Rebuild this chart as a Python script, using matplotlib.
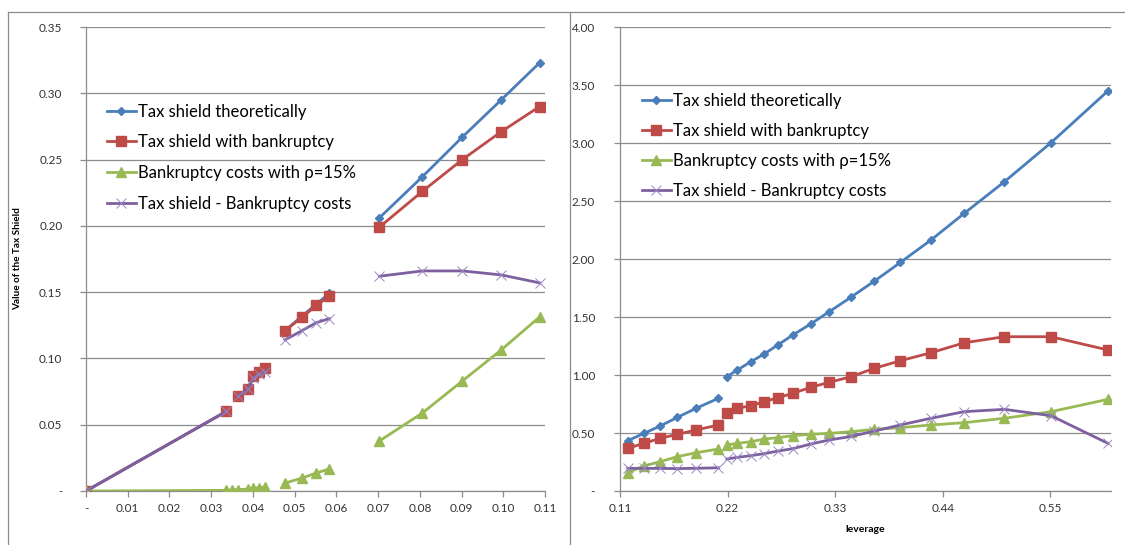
import matplotlib
matplotlib.use("Agg")
import matplotlib.pyplot as plt
from matplotlib.lines import Line2D
from matplotlib.ticker import FixedLocator, FuncFormatter
import numpy as np

plt.rcParams['font.family'] = ['Lato', 'DejaVu Sans']

nan = np.nan

# left chart (gaps marked with nan)
xl = [0.0, 0.0336, nan, 0.0365, 0.0389, 0.0400, 0.0415, 0.0430, nan,
      0.0477, 0.0518, 0.0552, 0.0583, nan, 0.0703, 0.0806, 0.0902, 0.0995, 0.1087]
blue_l = [0.0, 0.060, nan, 0.072, 0.077, 0.087, 0.090, 0.093, nan,
          0.121, 0.132, 0.141, 0.149, nan, 0.206, 0.237, 0.267, 0.295, 0.323]
red_l = [0.0, 0.060, nan, 0.072, 0.077, 0.087, 0.090, 0.093, nan,
         0.121, 0.131, 0.140, 0.147, nan, 0.199, 0.226, 0.250, 0.271, 0.290]
green_l = [0.0, 0.0005, 0.0008, 0.0010, 0.0015, 0.0020, 0.0025, 0.0030, nan,
           0.006, 0.0098, 0.0136, 0.0166, nan, 0.0377, 0.0588, 0.083, 0.1064, 0.1313]
xl_green = [0.0, 0.0336, 0.0350, 0.0365, 0.0389, 0.0400, 0.0415, 0.0430, nan,
            0.0477, 0.0518, 0.0552, 0.0583, nan, 0.0703, 0.0806, 0.0902, 0.0995, 0.1087]
purple_l = [0.0, 0.060, nan, 0.0715, 0.077, 0.085, 0.088, 0.090, nan,
            0.114, 0.121, 0.127, 0.130, nan, 0.162, 0.166, 0.166, 0.163, 0.157]

# right chart
xr = [0.1179, 0.1346, 0.1510, 0.1687, 0.1878, 0.2106, nan,
      0.2192, 0.2300, 0.2438, 0.2574, 0.2714, 0.2867, 0.3050, 0.3240, 0.3460,
      0.3702, 0.3966, 0.4280, 0.4620, 0.5030, 0.5507, 0.6088]
blue_r = [0.434, 0.497, 0.560, 0.635, 0.713, 0.799, nan,
          0.985, 1.043, 1.115, 1.181, 1.259, 1.345, 1.440, 1.546, 1.670,
          1.810, 1.970, 2.164, 2.394, 2.666, 3.003, 3.448]
red_r = [0.368, 0.411, 0.454, 0.489, 0.526, 0.569, nan,
         0.670, 0.713, 0.735, 0.770, 0.804, 0.842, 0.894, 0.937, 0.985,
         1.058, 1.123, 1.192, 1.278, 1.330, 1.330, 1.216]
green_r = [0.158, 0.216, 0.253, 0.296, 0.330, 0.362, nan,
           0.397, 0.411, 0.425, 0.448, 0.460, 0.477, 0.489, 0.497, 0.511,
           0.532, 0.546, 0.569, 0.589, 0.627, 0.684, 0.790]
purple_r = [0.196, 0.195, 0.195, 0.193, 0.196, 0.200, nan,
            0.276, 0.290, 0.305, 0.322, 0.344, 0.365, 0.405, 0.440, 0.470,
            0.517, 0.569, 0.627, 0.684, 0.704, 0.649, 0.411]

labels = ['Tax shield theoretically', 'Tax shield with bankruptcy',
          'Bankruptcy costs with \u03c1=15%', 'Tax shield - Bankruptcy costs']

xticks_l = [0.0, 0.01, 0.02, 0.03, 0.04, 0.05, 0.06, 0.07, 0.08, 0.09, 0.10, 0.11]
yticks_l = [0.0, 0.05, 0.10, 0.15, 0.20, 0.25, 0.30, 0.35]
xticks_r = [0.11, 0.22, 0.33, 0.44, 0.55]
yticks_r = [0.0, 0.5, 1.0, 1.5, 2.0, 2.5, 3.0, 3.5, 4.0]

c_blue = '#4A7EBB'
c_red = '#BE4B48'
c_green = '#98B954'
c_purple = '#7D60A0'
grid_c = '#8C8C8C'

fig = plt.figure(figsize=(11.25, 5.45), dpi=100)
W, H = 1125, 545
ax1 = fig.add_axes([86 / W, (H - 491) / H, 459 / W, 464 / H])
ax2 = fig.add_axes([620 / W, (H - 491) / H, 491 / W, 464 / H])


def fmt_num(v, pos):
    if abs(v) < 1e-9:
        return '-'
    return '%.2f' % v


def draw(ax, x, b, r, g, p, xg=None):
    lw = 2.0
    # later series sit on top, like Excel does
    ax.plot(x, b, color=c_blue, lw=lw, marker='D', ms=4.5, label=labels[0], zorder=2)
    ax.plot(x, r, color=c_red, lw=lw, marker='s', ms=7, label=labels[1], zorder=3)
    ax.plot(x if xg is None else xg, g, color=c_green, lw=lw, marker='^', ms=7,
            label=labels[2], zorder=4)
    ax.plot(x, p, color=c_purple, lw=lw, marker='x', ms=7.5, mew=0.7,
            mec='#9A88C4', label=labels[3], zorder=5)


def style(ax, xt, yt, xlim, ylim, ypad):
    ax.set_xlim(*xlim)
    ax.set_ylim(*ylim)
    ax.xaxis.set_major_locator(FixedLocator(xt))
    ax.yaxis.set_major_locator(FixedLocator(yt))
    ax.xaxis.set_major_formatter(FuncFormatter(fmt_num))
    ax.yaxis.set_major_formatter(FuncFormatter(fmt_num))
    for s in ['top', 'right']:
        ax.spines[s].set_visible(False)
    for s in ['left', 'bottom']:
        ax.spines[s].set_color(grid_c)
        ax.spines[s].set_linewidth(0.9)
    ax.grid(axis='y', color=grid_c, lw=0.9)
    ax.set_axisbelow(True)
    ax.tick_params(axis='both', direction='out', length=4, width=0.9,
                   color=grid_c, labelsize=8.5, labelcolor='#333333')
    ax.tick_params(axis='y', pad=ypad)
    ax.tick_params(axis='x', pad=5)


draw(ax1, xl, blue_l, red_l, green_l, purple_l, xg=xl_green)
draw(ax2, xr, blue_r, red_r, green_r, purple_r)
style(ax1, xticks_l, yticks_l, (0, 0.11), (0, 0.35), 13)
style(ax2, xticks_r, yticks_r, (0.11, 0.612), (0, 4.0), 14)

leg_kw = dict(frameon=False, fontsize=12, handlelength=1.75, handletextpad=0.12,
              borderaxespad=0)
ax1.legend(loc='upper left', bbox_to_anchor=(14 / 459, (491 - 97) / 464),
           labelspacing=0.88, **leg_kw)
ax2.legend(loc='upper left', bbox_to_anchor=(15 / 491, (491 - 86) / 464),
           labelspacing=0.84, **leg_kw)

ax1.set_ylabel('Value of the Tax Shield', fontsize=7.2, fontweight='bold')
ax1.yaxis.set_label_coords(-64 / 459, 0.50)
ax2.set_xlabel('leverage', fontsize=7.5, fontweight='bold')
ax2.xaxis.set_label_coords(0.5, -34 / 464)

# chart area borders
bc = '#8C8C8C'
fig.add_artist(Line2D([8 / W, 1], [1 - 12 / H, 1 - 12 / H], color=bc, lw=0.9))
fig.add_artist(Line2D([8 / W, 8 / W], [0, 1 - 12 / H], color=bc, lw=0.9))
fig.add_artist(Line2D([569.5 / W, 569.5 / W], [0, 1 - 12 / H], color=bc, lw=0.9))

fig.savefig('out.png', dpi=100)
